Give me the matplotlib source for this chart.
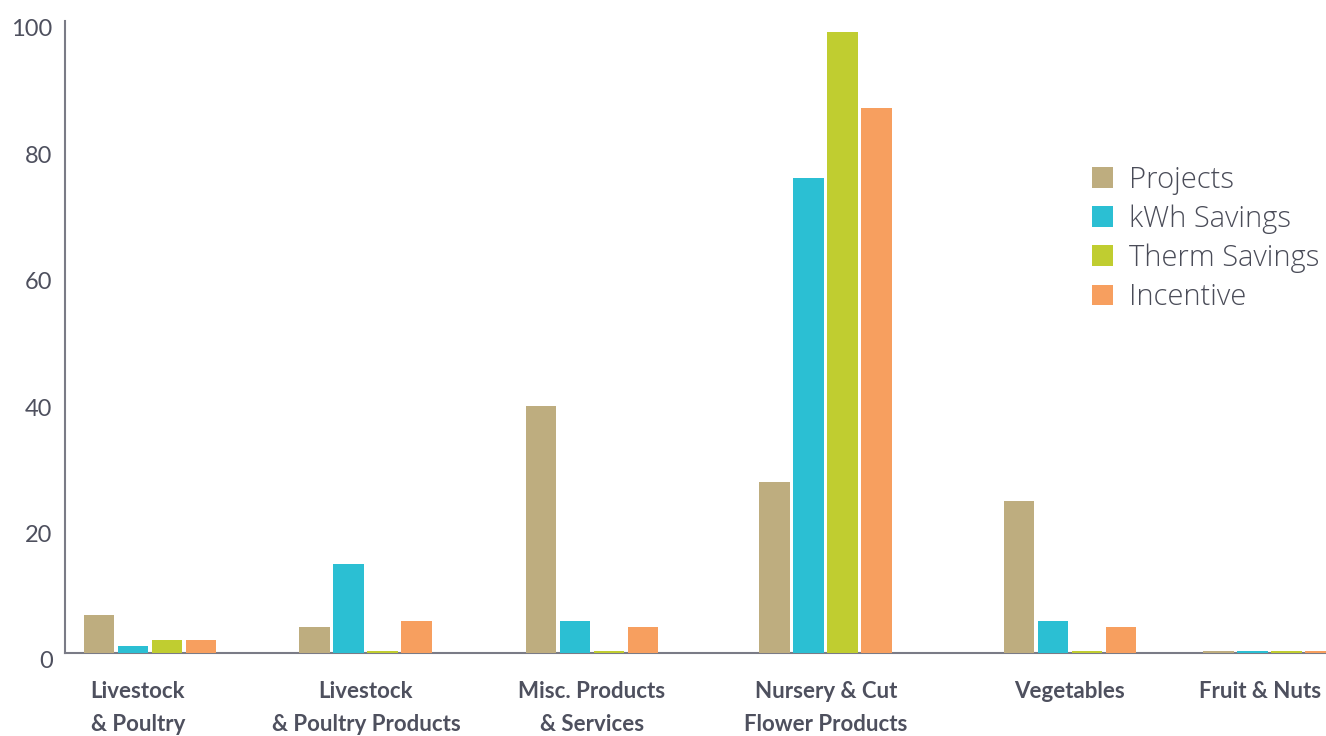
import matplotlib
matplotlib.use('Agg')
import matplotlib.pyplot as plt
import matplotlib.transforms as mtransforms
import numpy as np

categories = ['Livestock\n& Poultry', 'Livestock\n& Poultry Products', 'Misc. Products\n& Services',
              'Nursery & Cut\nFlower Products', 'Vegetables', 'Fruit & Nuts']
series_names = ['Projects', 'kWh Savings', 'Therm Savings', 'Incentive']
projects = [6.0, 4.1, 39.1, 27.1, 24.1, 0.3]
kwh_savings = [1.1, 14.1, 5.1, 75.2, 5.1, 0.3]
therm_savings = [2.1, 0.3, 0.3, 98.3, 0.3, 0.3]
incentive = [2.1, 5.1, 4.1, 86.2, 4.1, 0.3]

colors = ['#bead7f', '#2bbfd3', '#c0cd30', '#f79f5f']
text_color = '#4e505e'
axis_color = '#7a7b86'

# group centres (uneven in the original layout), in bar-slot units
group_x = np.array([0, 6.35, 13.0, 19.88, 27.06, 32.94])

fig = plt.figure(figsize=(13.26, 7.36), dpi=100)
ax = fig.add_axes([65 / 1326, 83 / 736, 1 - 65 / 1326, 632 / 736])

series = [projects, kwh_savings, therm_savings, incentive]
for i, (name, vals) in enumerate(zip(series_names, series)):
    ax.bar(group_x + (i - 1.5), vals, width=0.91, color=colors[i], label=name, zorder=3)

ax.set_xlim(-2.5, 34.59)
ax.set_ylim(0, 100)
ax.set_yticks([0, 20, 40, 60, 80, 100])
ax.set_xticks(group_x)
ax.tick_params(axis='both', length=0)
ax.tick_params(axis='x', pad=20)
ax.tick_params(axis='y', pad=9)
ax.set_xticklabels(categories, family='Lato', fontsize=16, fontweight='bold',
                   color=text_color, linespacing=1.7)
# small horizontal nudges of the first and last labels, as in the original
xlabels = ax.get_xticklabels()
for lbl, dx in [(xlabels[0], -12), (xlabels[-1], -10)]:
    lbl.set_transform(lbl.get_transform() + mtransforms.ScaledTranslation(dx / 100, 0, fig.dpi_scale_trans))
shift = mtransforms.ScaledTranslation(0, -7 / 100, fig.dpi_scale_trans)
for lbl in ax.get_yticklabels():
    lbl.set_family('Lato')
    lbl.set_fontsize(17)
    lbl.set_color(text_color)
    lbl.set_transform(lbl.get_transform() + shift)
for s in ['top', 'right']:
    ax.spines[s].set_visible(False)
for s in ['left', 'bottom']:
    ax.spines[s].set_color(axis_color)
    ax.spines[s].set_linewidth(1.5)

leg = ax.legend(loc='upper left', bbox_to_anchor=(1066 / 1326, 1 - 139 / 736),
                bbox_transform=fig.transFigure, frameon=False,
                handlelength=0.72, handleheight=0.72, handletextpad=0.53, labelspacing=0.33,
                prop={'family': 'Open Sans', 'size': 21, 'weight': 'light'})
for t in leg.get_texts():
    t.set_color('#4a4c58')

fig.savefig('out.png', dpi=100)
